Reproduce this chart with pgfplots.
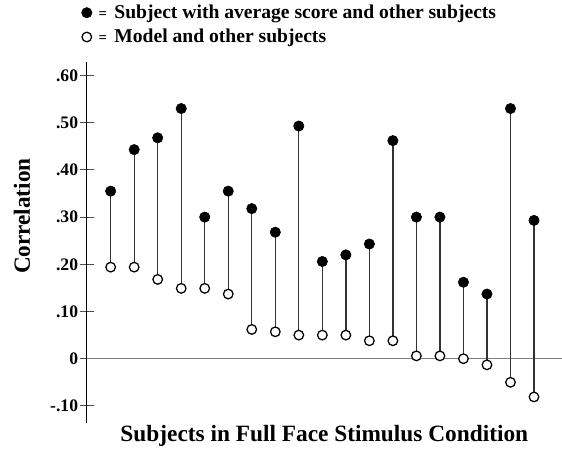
\documentclass[border=0pt]{standalone}
\usepackage{fontspec}
\setmainfont{Liberation Serif}
\usepackage{pgfplots}
\usepackage{pgfplotstable}
\pgfplotsset{compat=1.18}
\usetikzlibrary{calc}
\pgfplotstableread{
x hi lo
1 0.355 0.194
2 0.443 0.194
3 0.468 0.168
4 0.530 0.149
5 0.300 0.149
6 0.355 0.137
7 0.318 0.062
8 0.268 0.057
9 0.493 0.050
10 0.206 0.050
11 0.220 0.050
12 0.243 0.038
13 0.462 0.038
14 0.300 0.006
15 0.300 0.006
16 0.162 0.000
17 0.137 -0.013
18 0.530 -0.050
19 0.293 -0.081
}\data
\begin{document}
\begin{tikzpicture}
\begin{axis}[
  scale only axis,
  width=356.5pt, height=271.2pt,
  xmin=-0.02, xmax=20.19,
  ymin=-0.1369, ymax=0.6292,
  axis x line*=bottom,
  axis y line*=left,
  axis line style={line width=0.9pt, black},
  x axis line style={draw=none},
  xtick=\empty,
  ytick={-0.1,0,0.1,0.2,0.3,0.4,0.5,0.6},
  yticklabels={-.10,0,.10,.20,.30,.40,.50,.60},
  tick align=center,
  major tick length=10.5pt,
  tick style={line width=0.7pt, black!70},
  /pgf/number format/assume math mode=true,
  yticklabel style={font=\fontsize{13.2}{15}\selectfont\bfseries, inner sep=0pt, xshift=-1pt},
  ylabel={Correlation},
  ylabel style={font=\fontsize{17.4}{20}\selectfont\bfseries, at={(axis description cs:-0.136,0.573)}, anchor=center},
  xlabel={Subjects in Full Face Stimulus Condition},
  xlabel style={font=\fontsize{17.5}{20}\selectfont\bfseries, at={(axis description cs:0.5,0)}, anchor=north, inner sep=0pt, yshift=-1pt},
  clip=false,
  legend style={draw=none, fill=none, at={(axis description cs:0,1)}, anchor=south west,
    font=\fontsize{14.7}{17}\selectfont\bfseries, row sep=2.5pt, inner sep=0pt,
    xshift=-4pt, yshift=10.5pt},
  legend cell align=left,
  legend image code/.code={\draw[#1] plot coordinates {(0pt,0pt)};},
]
\addplot[gray, line width=0.8pt, forget plot] coordinates {(-0.02,0) (20.19,0)};
\addplot[only marks, mark=none, forget plot,
  error bars/.cd, y dir=minus, y explicit, error mark=none,
  error bar style={draw=black!80, line width=1pt}]
  table[x=x, y=hi, y error minus expr=\thisrow{hi}-\thisrow{lo}] {\data};
\addplot[only marks, mark=*, mark size=3.9pt, mark options={fill=black, draw=black}]
  table[x=x, y=hi] {\data};
\addlegendentry{\hspace{3pt}{\fontsize{11}{13}\selectfont=}\hspace{5.5pt}Subject with average score and other subjects}
\addplot[only marks, mark=*, mark size=3.6pt, mark options={fill=white, draw=black, line width=0.95pt}]
  table[x=x, y=lo] {\data};
\addlegendentry{\hspace{3pt}{\fontsize{11}{13}\selectfont=}\hspace{5.5pt}Model and other subjects}
\end{axis}
\pgfresetboundingbox
\path[use as bounding box] ($(current axis.south west)+(-65pt,-20pt)$) rectangle ($(current axis.north east)+(0pt,46.3pt)$);
\end{tikzpicture}
\end{document}
